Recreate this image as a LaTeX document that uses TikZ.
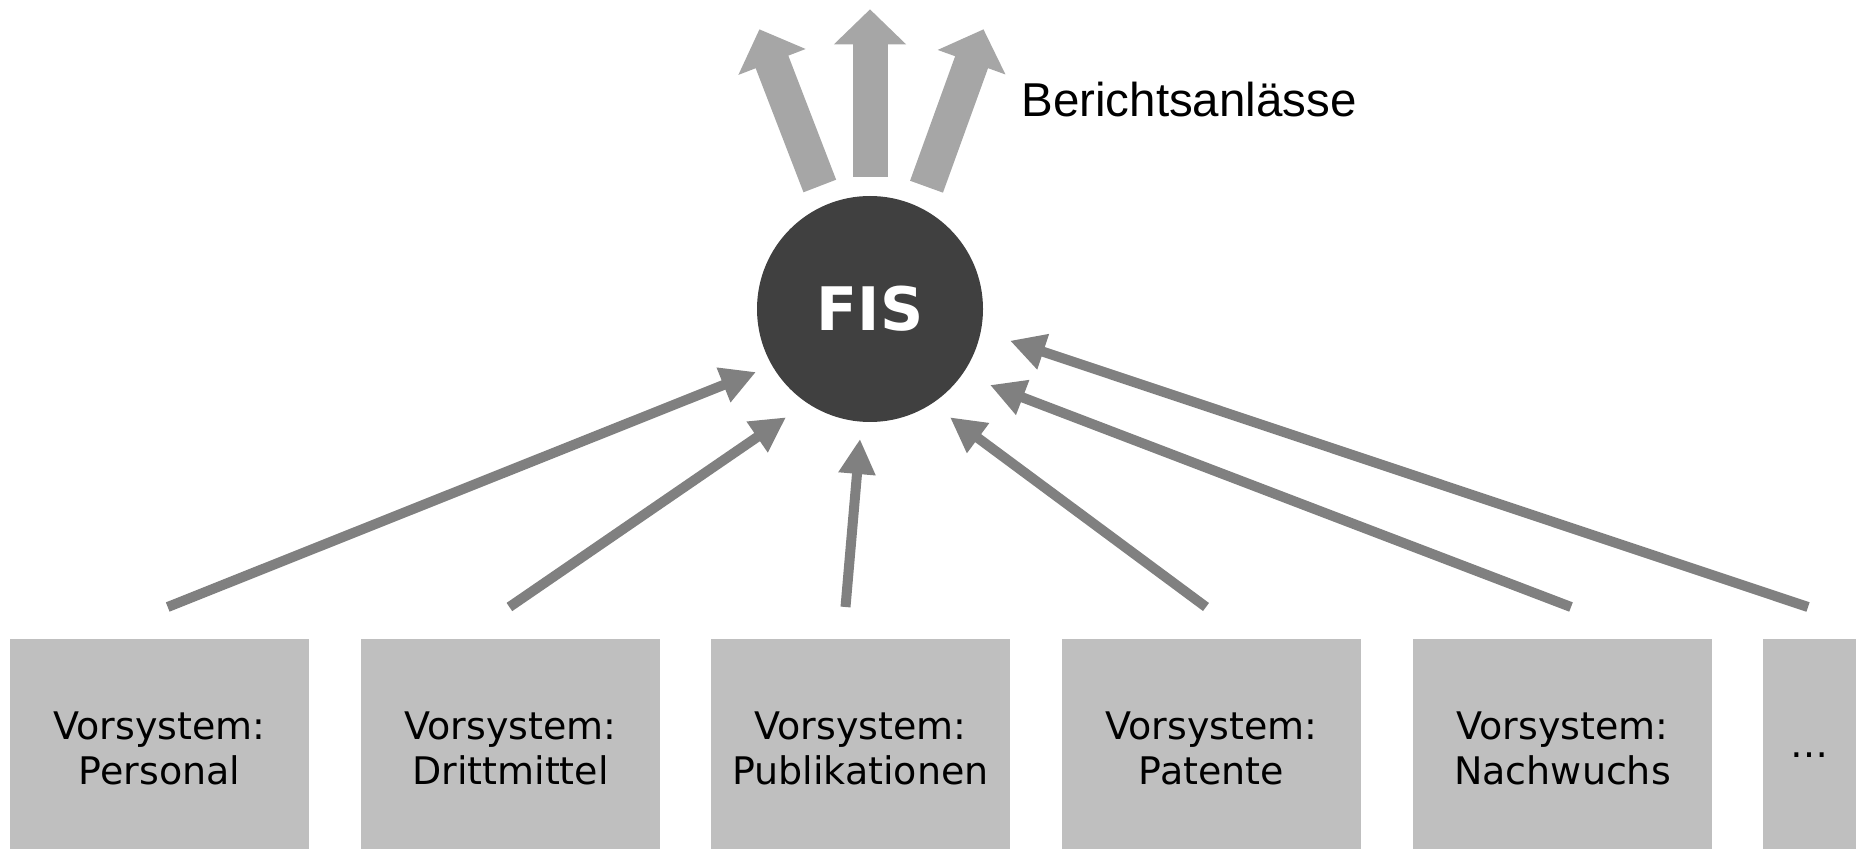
\documentclass[tikz,border=0pt]{standalone}
\usepackage{fontspec}
\setmainfont{DejaVu Sans}
\newfontfamily\arialfont{Liberation Sans}
\usetikzlibrary{arrows.meta}
\definecolor{boxgray}{HTML}{BFBFBF}
\definecolor{arrowgray}{HTML}{808080}
\definecolor{lightarrow}{HTML}{A6A6A6}
\definecolor{fisdark}{HTML}{404040}
\begin{document}
\begin{tikzpicture}[x=0.5pt,y=-0.5pt,
  vbox/.style={fill=boxgray, draw=none, minimum width=149.5pt, minimum height=109pt,
    inner sep=0pt, align=center, font=\fontsize{19}{22.5}\selectfont, text=black},
  inarrow/.style={draw=arrowgray, line width=5pt, -{Triangle[length=17.5pt,width=17.5pt]}},
  outarrow/.style={draw=lightarrow, line width=17.5pt, -{Triangle[length=17.5pt,width=35pt]}}]
\useasboundingbox (0,0) rectangle (1856,849);

% source boxes (extend below the page edge, as in the reference)
\node[vbox] (personal) at (159.5,748) {Vorsystem:\\Personal};
\node[vbox] (dritt) at (510.5,748) {Vorsystem:\\Drittmittel};
\node[vbox] (publ) at (860.5,748) {Vorsystem:\\Publikationen};
\node[vbox] (pat) at (1211.5,748) {Vorsystem:\\Patente};
\node[vbox] (nach) at (1562.5,748) {Vorsystem:\\Nachwuchs};
\node[vbox, minimum width=46.5pt] (more) at (1809.5,748) {\strut…};

% central node
\node[circle, fill=fisdark, minimum size=113pt, inner sep=0pt, text=white,
  font=\bfseries\fontsize{30}{32}\selectfont] (fis) at (870,309) {FIS};

% label
\node[anchor=base west, inner sep=0pt, font=\arialfont\fontsize{23.75}{28}\selectfont] (bericht) at (1021,117) {Berichtsanlässe};

% incoming arrow ends
\coordinate (tPersonal) at (167.7,607);  \coordinate (hPersonal) at (756,372);
\coordinate (tDritt) at (509.4,607);     \coordinate (hDritt) at (786,417.3);
\coordinate (tPubl) at (845.5,607);      \coordinate (hPubl) at (860,439);
\coordinate (tPat) at (1206,607);        \coordinate (hPat) at (950,417.3);
\coordinate (tNach) at (1571,607);       \coordinate (hNach) at (990,385);
\coordinate (tMore) at (1808,607);       \coordinate (hMore) at (1010,340.7);

\draw[inarrow] (tPersonal) -- (hPersonal);
\draw[inarrow] (tDritt) -- (hDritt);
\draw[inarrow] (tPubl) -- (hPubl);
\draw[inarrow] (tPat) -- (hPat);
\draw[inarrow] (tNach) -- (hNach);
\draw[inarrow] (tMore) -- (hMore);

% outgoing arrows
\coordinate (oLs) at (819.8,186);   \coordinate (oLe) at (759.4,29.3);
\coordinate (oMs) at (870,177);     \coordinate (oMe) at (870,9.3);
\coordinate (oRs) at (926.5,186.7); \coordinate (oRe) at (983.5,29.3);
\draw[outarrow] (oLs) -- (oLe);
\draw[outarrow] (oMs) -- (oMe);
\draw[outarrow] (oRs) -- (oRe);
\end{tikzpicture}
\end{document}
